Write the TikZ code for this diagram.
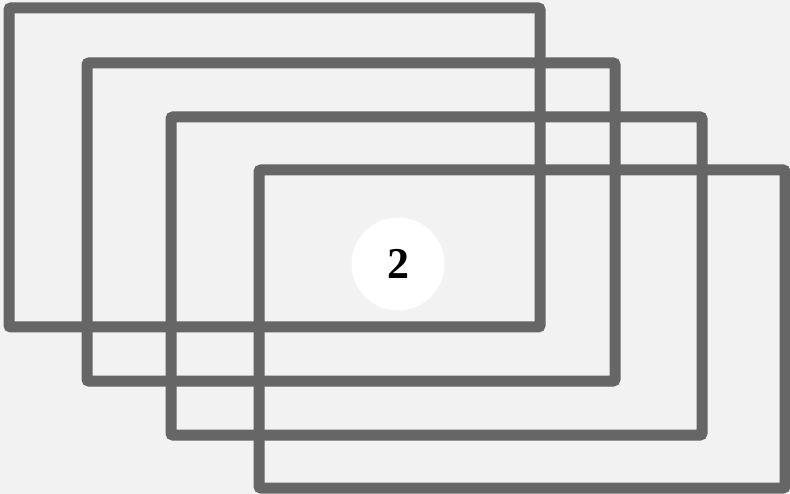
\documentclass[tikz,border=0pt]{standalone}
\usepackage{fontspec}
\setmainfont{Liberation Serif}
\usepackage{xcolor}
\definecolor{frameink}{HTML}{666666}
\definecolor{paperbg}{HTML}{F2F2F2}

\begin{document}
\begin{tikzpicture}[
  x=1pt, y=-1pt,
  frame/.style={frameink, line width=11pt, rounded corners=2pt},
  badge/.style={circle, fill=white, minimum size=93pt, inner sep=0pt,
    font=\fontsize{44}{44}\selectfont\bfseries, text=black}
]

  %% ---- background --------------------------------------------------
  \fill[paperbg] (0,0) rectangle (790,494);
  \useasboundingbox (0,0) rectangle (790,494);

  %% ---- four stacked frames ------------------------------------------
  \draw[frame] (9,8)     rectangle (540,327);
  \draw[frame] (87,63)   rectangle (615,381);
  \draw[frame] (171,117) rectangle (702,435);
  \draw[frame] (259,170) rectangle (785,488);

  %% ---- page number badge -------------------------------------------
  \node[badge] (pagenum) at (398,264) {2};

\end{tikzpicture}
\end{document}
